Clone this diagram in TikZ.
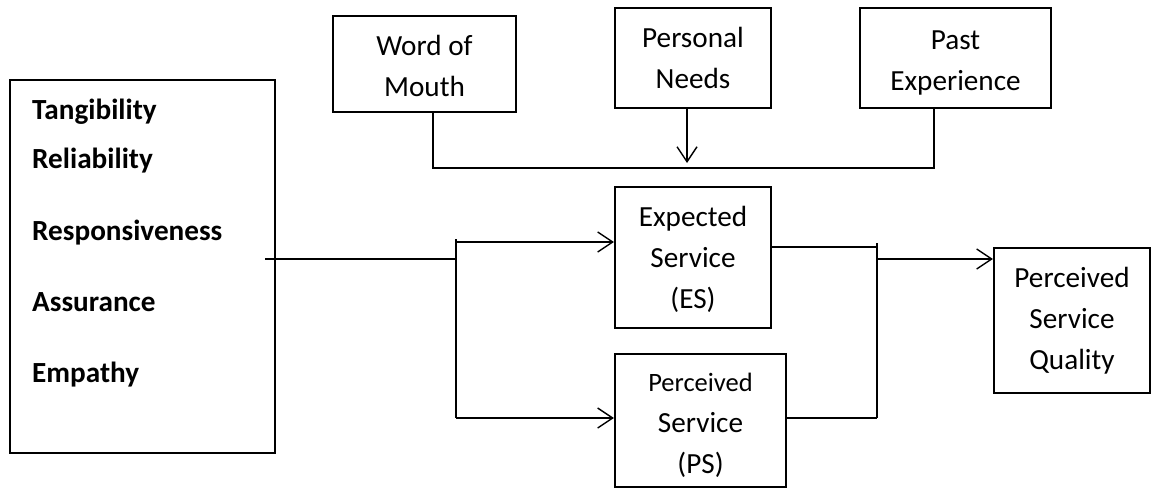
\documentclass[tikz,border=0pt]{standalone}
\usepackage{fontspec}
\setmainfont{Carlito}
\usetikzlibrary{arrows.meta,positioning}

\begin{document}
\begin{tikzpicture}[>={Straight Barb[length=15pt,width=20pt]}, x=1pt, y=-1pt]
    \tikzstyle{box} = [draw=black, line width=2.2pt, align=center, inner sep=0, font=\fontsize{29.2}{41}\selectfont]
    \tikzstyle{dim} = [anchor=base west, inner sep=0, font=\bfseries\fontsize{29.2}{34}\selectfont]
    \tikzstyle{link} = [black, line width=1.4pt]
    \useasboundingbox (0,0) rectangle (1161,488);

    % dimensions
    \node[box, minimum width=265pt, minimum height=373pt] (dims) at (142.5,266.5) {};
    \node[dim] (tang) at (32,119) {Tangibility};
    \node[dim] (reli) at (32,168) {Reliability};
    \node[dim] (resp) at (32,240) {Responsiveness};
    \node[dim] (assu) at (32,311) {Assurance};
    \node[dim] (empa) at (32,382) {Empathy};

    % expectation sources
    \node[box, minimum width=183pt, minimum height=96pt] (wom) at (424.5,64) {\rule{0pt}{24pt}Word of\\Mouth};
    \node[box, minimum width=156pt, minimum height=100pt] (needs) at (693,58) {Personal\\Needs};
    \node[box, minimum width=191pt, minimum height=100pt] (past) at (955.5,58) {\rule{0pt}{28pt}Past\\Experience};

    % services
    \node[box, minimum width=156pt, minimum height=141pt] (es) at (693,257.5) {\rule{0pt}{24pt}Expected\\Service\\(ES)};
    \node[box, minimum width=171pt, minimum height=133pt] (ps) at (700.5,420.5) {\rule{0pt}{28pt}{\fontsize{26.5}{41}\selectfont Perceived}\\Service\\(PS)};
    \node[box, minimum width=156pt, minimum height=145pt] (psq) at (1072,320.5) {Perceived\\Service\\Quality};

    \coordinate (womout) at (433,112);
    \coordinate (merge) at (934,168);
    \coordinate (needsout) at (687,108);
    \coordinate (needsin) at (687,163);
    \coordinate (src) at (265,259);
    \coordinate (split) at (456,259);
    \coordinate (splittop) at (456,239);
    \coordinate (splitbot) at (456,418);
    \coordinate (estop) at (456,242);
    \coordinate (esout) at (771,247);
    \coordinate (join) at (877,259);
    \coordinate (jointop) at (877,243);
    \coordinate (joinbot) at (877,418);

    \draw[link] (womout) |- (merge) -- (merge |- past.south);
    \draw[link,->] (needsout) -- (needsin);
    \draw[link] (src) -- (split);
    \draw[link] (splittop) -- (splitbot);
    \draw[link,->] (estop) -- (estop -| es.west);
    \draw[link,->] (splitbot) -- (splitbot -| ps.west);
    \draw[link] (esout) -- (esout -| join);
    \draw[link] (jointop) -- (joinbot);
    \draw[link] (joinbot -| ps.east) -- (joinbot);
    \draw[link,->] (join) -- (join -| psq.west);
\end{tikzpicture}
\end{document}
